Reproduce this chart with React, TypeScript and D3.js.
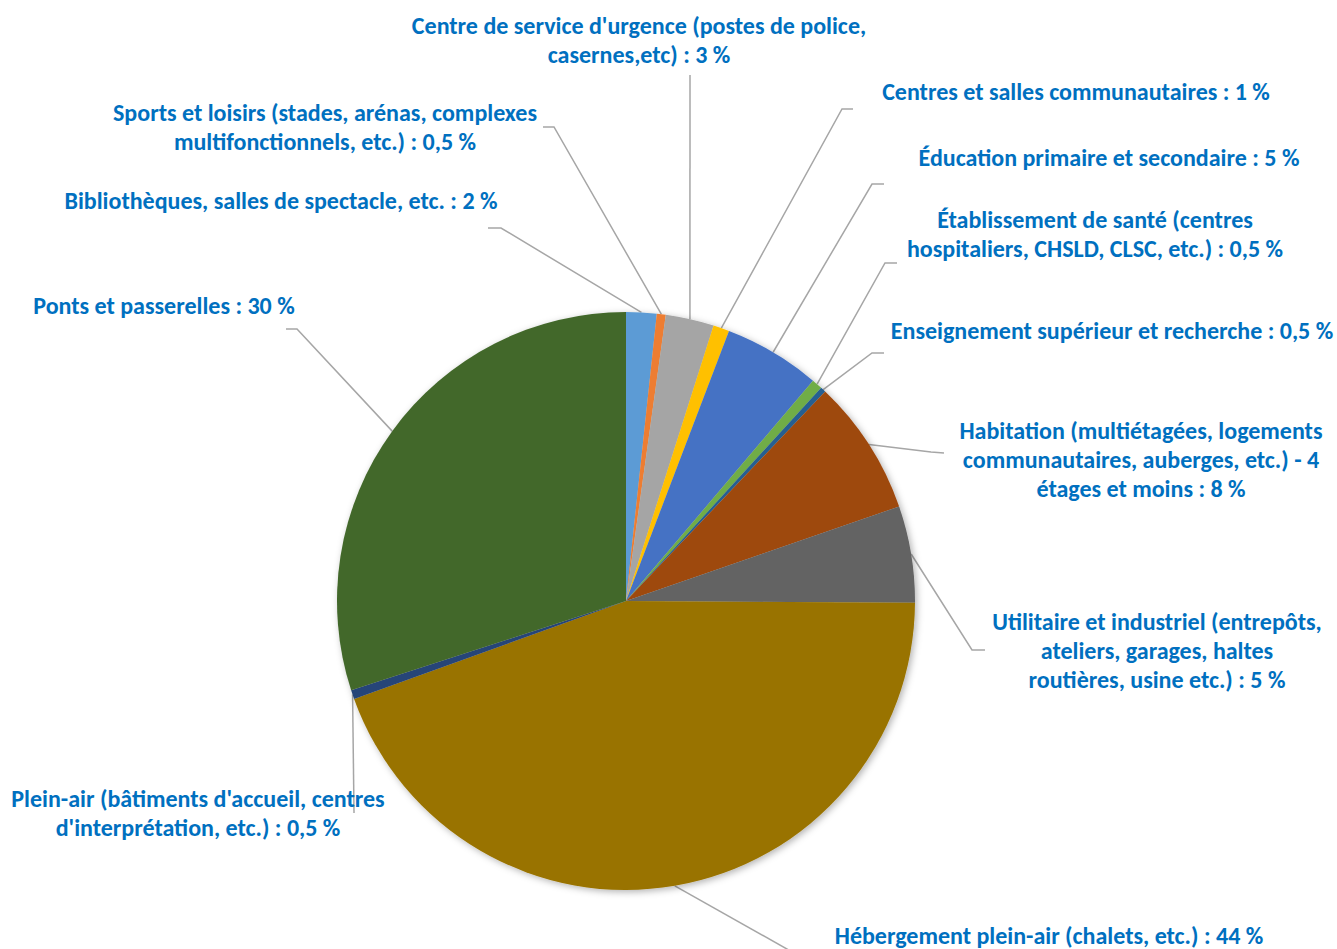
import { useEffect, useRef } from 'react';
import * as d3 from 'd3';

const WIDTH = 1337;
const HEIGHT = 949;

// slices clockwise from 12 o'clock
const CATEGORIES = [
  'Bibliothèques',
  'Sports et loisirs',
  "Centre de service d'urgence",
  'Centres et salles communautaires',
  'Éducation primaire et secondaire',
  'Établissement de santé',
  'Enseignement supérieur et recherche',
  'Habitation',
  'Utilitaire et industriel',
  'Hébergement plein-air',
  'Plein-air',
  'Ponts et passerelles',
];

const VALUES = [1.7, 0.5, 2.7, 0.9, 5.4, 0.6, 0.3, 7.6, 5.4, 44.4, 0.5, 30];

const LABELS = [
  ['Bibliothèques, salles de spectacle, etc. : 2 %'],
  ['Sports et loisirs (stades, arénas, complexes', 'multifonctionnels, etc.) : 0,5 %'],
  ["Centre de service d'urgence (postes de police,", 'casernes,etc) : 3 %'],
  ['Centres et salles communautaires : 1 %'],
  ['Éducation primaire et secondaire : 5 %'],
  ['Établissement de santé (centres', 'hospitaliers, CHSLD, CLSC, etc.) : 0,5 %'],
  ['Enseignement supérieur et recherche : 0,5 %'],
  ['Habitation (multiétagées, logements', 'communautaires, auberges, etc.) - 4', 'étages et moins : 8 %'],
  ['Utilitaire et industriel (entrepôts,', 'ateliers, garages, haltes', 'routières, usine etc.) : 5 %'],
  ['Hébergement plein-air (chalets, etc.) : 44 %'],
  ["Plein-air (bâtiments d'accueil, centres", "d'interprétation, etc.) : 0,5 %"],
  ['Ponts et passerelles : 30 %'],
];

const COLORS = [
  '#5B9BD5', '#ED7D31', '#A5A5A5', '#FFC000', '#4472C4', '#70AD47',
  '#255E91', '#9E480E', '#636363', '#997300', '#264478', '#43682B',
];

// label placement: centre x, first baseline y, leader points after the slice point
const LAYOUT: { x: number; y: number; leader: [number, number][] }[] = [
  { x: 281, y: 208.5, leader: [[501, 228], [488, 228]] },
  { x: 325, y: 120.5, leader: [[554, 127], [543, 127]] },
  { x: 639, y: 33.5, leader: [[690, 75]] },
  { x: 1076, y: 99.5, leader: [[842, 109], [853, 109]] },
  { x: 1109, y: 165.5, leader: [[872, 184], [884, 184]] },
  { x: 1095, y: 227.5, leader: [[885, 263], [897, 263]] },
  { x: 1112, y: 338.5, leader: [[872, 353], [884, 353]] },
  { x: 1141, y: 438.5, leader: [[931, 452], [944, 453]] },
  { x: 1157, y: 629.5, leader: [[972, 650], [985, 650]] },
  { x: 1049, y: 943.5, leader: [[810, 962]] },
  { x: 198, y: 806.5, leader: [[354, 813]] },
  { x: 164, y: 313.5, leader: [[297, 329], [286, 329]] },
];

const CX = 626;
const CY = 601;
const R = 289;
const LINE_H = 29.3;

export default function App() {
  const svgRef = useRef<SVGSVGElement>(null);

  useEffect(() => {
    if (!svgRef.current) return;
    const svg = d3.select(svgRef.current);
    svg.selectAll('*').remove();

    const defs = svg.append('defs');
    const filter = defs.append('filter')
      .attr('id', 'shadow')
      .attr('x', '-10%').attr('y', '-10%')
      .attr('width', '120%').attr('height', '120%');
    filter.append('feDropShadow')
      .attr('dx', 2).attr('dy', 2)
      .attr('stdDeviation', 3.5)
      .attr('flood-color', '#000')
      .attr('flood-opacity', 0.3);

    const data = CATEGORIES.map((name, i) => ({ name, value: VALUES[i], i }));

    const pie = d3.pie<typeof data[number]>()
      .value(d => d.value)
      .sort(null);
    const arcs = pie(data);

    const arc = d3.arc<d3.PieArcDatum<typeof data[number]>>()
      .innerRadius(0)
      .outerRadius(R);
    const edge = d3.arc<d3.PieArcDatum<typeof data[number]>>()
      .innerRadius(R)
      .outerRadius(R);

    // leader lines
    const lines = svg.append('g')
      .attr('fill', 'none')
      .attr('stroke', '#A6A6A6')
      .attr('stroke-width', 1.5);
    arcs.forEach(d => {
      const [px, py] = edge.centroid(d);
      const pts: [number, number][] = [[CX + px, CY + py], ...LAYOUT[d.data.i].leader];
      lines.append('path').attr('d', d3.line()(pts));
    });

    const g = svg.append('g')
      .attr('transform', `translate(${CX},${CY})`)
      .attr('filter', 'url(#shadow)');
    g.selectAll('path')
      .data(arcs)
      .enter()
      .append('path')
      .attr('d', arc)
      .attr('fill', d => COLORS[d.data.i]);

    // labels
    const labels = svg.append('g')
      .attr('font-family', 'Carlito, Lato, sans-serif')
      .attr('font-weight', 700)
      .attr('font-size', 24)
      .attr('fill', '#0070C0')
      .attr('text-anchor', 'middle');
    LABELS.forEach((rows, i) => {
      const t = labels.append('text');
      rows.forEach((row, j) => {
        t.append('tspan')
          .attr('x', LAYOUT[i].x)
          .attr('y', LAYOUT[i].y + j * LINE_H)
          .text(row);
      });
    });
  }, []);

  return (
    <svg
      ref={svgRef}
      width={WIDTH}
      height={HEIGHT}
      style={{ position: 'absolute', left: 0, top: 0, background: '#fff' }}
    />
  );
}
